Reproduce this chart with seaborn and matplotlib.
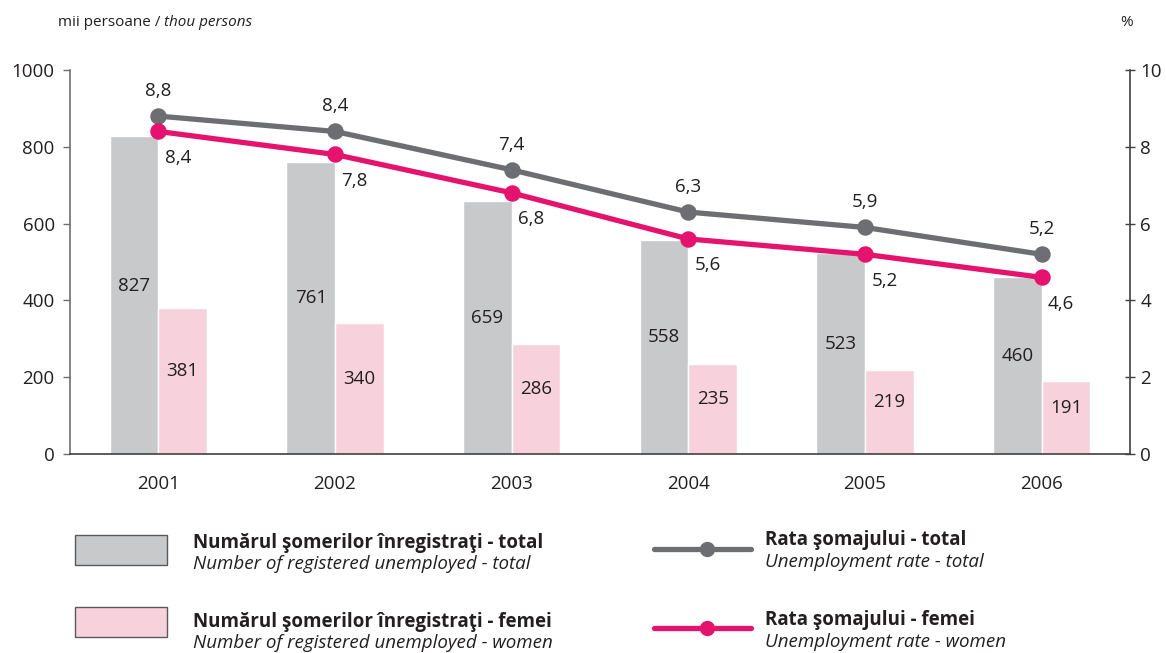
import numpy as np
import matplotlib.pyplot as plt
import seaborn as sns
import pandas as pd
from matplotlib.patches import Rectangle
from matplotlib.lines import Line2D

# Data
years = ['2001', '2002', '2003', '2004', '2005', '2006']
unemployed_total = [827, 761, 659, 558, 523, 460]
unemployed_women = [381, 340, 286, 235, 219, 191]
rate_total = [8.8, 8.4, 7.4, 6.3, 5.9, 5.2]
rate_women = [8.4, 7.8, 6.8, 5.6, 5.2, 4.6]

GRAY_BAR = '#c8c9cb'
PINK_BAR = '#f7d2dd'
GRAY_LINE = '#6d6e71'
PINK_LINE = '#e5136d'
TXT = '#231f20'
FS = 13.5

sns.set_style('white')
plt.rcParams['font.family'] = ['Open Sans', 'DejaVu Sans']
plt.rcParams['text.color'] = TXT

df = pd.DataFrame({
    'year': years * 2,
    'value': unemployed_total + unemployed_women,
    'series': ['total'] * len(years) + ['women'] * len(years),
})

fig = plt.figure(figsize=(11.66, 6.53), dpi=100)
ax = fig.add_axes([70 / 1166, 1 - 454 / 653, 1060 / 1166, 384 / 653])

sns.barplot(data=df, x='year', y='value', hue='series', order=years,
            palette=[GRAY_BAR, PINK_BAR], width=0.55, saturation=1,
            legend=False, ax=ax)

# bar value labels
for cont, vals in zip(ax.containers, [unemployed_total, unemployed_women]):
    for patch, v in zip(cont, vals):
        ax.text(patch.get_x() + patch.get_width() / 2, v / 2 + 25, str(v),
                ha='center', va='center', fontsize=FS, color=TXT)

ax.set_ylim(0, 1000)
ax.set_xlim(-0.5, len(years) - 0.5)
ax.set_yticks(range(0, 1001, 200))
ax.set_xlabel('')
ax.set_ylabel('')
ax.set_xticks(np.arange(-0.5, len(years), 1), minor=True)
ax.tick_params(axis='x', which='major', length=0, labelsize=FS, pad=15, colors=TXT)
ax.tick_params(axis='x', which='minor', length=8, width=1, color='#404041', direction='out')
ax.tick_params(axis='y', length=5, width=1, labelsize=FS, colors=TXT, pad=6)
ax.tick_params(axis='y', color='#6d6e71')

for s in ['top', 'right']:
    ax.spines[s].set_visible(False)
ax.spines['left'].set_color('#6d6e71')
ax.spines['bottom'].set_color('#404041')
ax.spines['left'].set_linewidth(1.2)
ax.spines['bottom'].set_linewidth(1.2)

ax2 = ax.twinx()
sns.pointplot(x=years, y=rate_total, color=GRAY_LINE, markers='o',
              linewidth=3.8, markersize=9, ax=ax2)
sns.pointplot(x=years, y=rate_women, color=PINK_LINE, markers='o',
              linewidth=3.8, markersize=9, ax=ax2)
ax2.set_ylim(0, 10)
ax2.set_xlim(-0.5, len(years) - 0.5)
ax2.set_yticks(range(0, 11, 2))
ax2.set_ylabel('')
ax2.tick_params(axis='y', length=7, width=1, direction='inout',
                labelsize=FS, colors=TXT, pad=4)
ax2.tick_params(axis='y', color='#404041')
for s in ['top', 'left', 'bottom']:
    ax2.spines[s].set_visible(False)
ax2.spines['right'].set_color('#404041')
ax2.spines['right'].set_linewidth(1.2)

# line value labels
for i, (rt, rw) in enumerate(zip(rate_total, rate_women)):
    ax2.annotate(f'{rt}'.replace('.', ','), (i, rt), xytext=(0, 18),
                 textcoords='offset points', ha='center', va='center',
                 fontsize=FS, color=TXT)
    ax2.annotate(f'{rw}'.replace('.', ','), (i, rw), xytext=(14, -19),
                 textcoords='offset points', ha='center', va='center',
                 fontsize=FS, color=TXT)

# axis titles
fig.canvas.draw()
t1 = fig.text(58 / 1166, 1 - 22 / 653, 'mii persoane / ', fontsize=11, va='center', ha='left')
bb = t1.get_window_extent(fig.canvas.get_renderer())
fig.text(bb.x1 / fig.bbox.width, 1 - 22 / 653, 'thou persons', fontsize=11,
         va='center', ha='left', style='italic')
fig.text(1127 / 1166, 1 - 22 / 653, '%', fontsize=11, va='center', ha='center')

# legend (manual)
def fy(y):
    return 1 - y / 653

for y0, col in [(535, GRAY_BAR), (607, PINK_BAR)]:
    fig.add_artist(Rectangle((75 / 1166, fy(y0 + 30)), 92 / 1166, 30 / 653,
                             facecolor=col, edgecolor='#58595b', linewidth=1,
                             transform=fig.transFigure))

bar_leg = [('Numărul şomerilor înregistraţi - total', 'Number of registered unemployed - total', 543),
           ('Numărul şomerilor înregistraţi - femei', 'Number of registered unemployed - women', 622)]
for bold, ital, y in bar_leg:
    fig.text(193 / 1166, fy(y), bold, fontsize=13.5, fontweight='bold', va='center')
    fig.text(193 / 1166, fy(y + 21), ital, fontsize=13.5, style='italic', va='center')

for y, col in [(549, GRAY_LINE), (628, PINK_LINE)]:
    fig.add_artist(Line2D([654 / 1166, 751 / 1166], [fy(y), fy(y)], color=col,
                          linewidth=3.8, transform=fig.transFigure))
    fig.add_artist(Line2D([707 / 1166], [fy(y)], marker='o', markersize=10,
                          color=col, transform=fig.transFigure))

line_leg = [('Rata şomajului - total', 'Unemployment rate - total', 540),
            ('Rata şomajului - femei', 'Unemployment rate - women', 620)]
for bold, ital, y in line_leg:
    fig.text(765 / 1166, fy(y), bold, fontsize=13.5, fontweight='bold', va='center')
    fig.text(765 / 1166, fy(y + 22), ital, fontsize=13.5, style='italic', va='center')

fig.savefig('out.png', dpi=100)
